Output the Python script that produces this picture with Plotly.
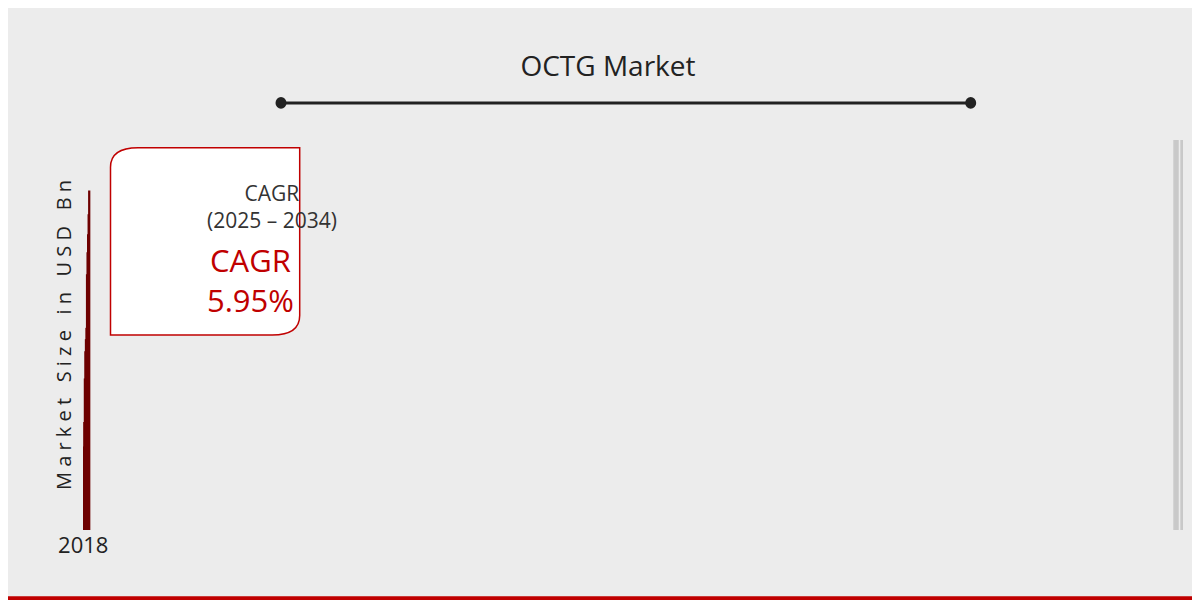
import plotly.graph_objects as go

years = ["2018", "2019", "2021", "2022", "2023", "2024", "2025", "2026", "2031", "2032", "2033", "2034"]
values = [5.7, 9.1, 11.8, 16.6, 19.6, 20.93, 22.18, 28.1, 30.5, 32.5, 34.7, 37.32]
shown = ["", "", "", "", "", "20.93", "22.18", "", "", "", "", "37.32"]

fig = go.Figure()
fig.add_trace(go.Bar(
    x=years, y=values, text=shown, textposition="outside", cliponaxis=False,
    textfont=dict(size=19, color="#222", family="Open Sans"),
    marker=dict(color="#c10000", line=dict(color="#6e0000", width=2)),
    width=0.48,
))

# vertical guide lines through the bar centres
for yr in years:
    fig.add_shape(type="line", xref="x", yref="paper", x0=yr, x1=yr, y0=0, y1=1,
                  line=dict(color="#c8c8c8", width=1), layer="below")

fig.add_shape(type="line", xref="paper", yref="paper", x0=0.18, x1=0.807, y0=1.095, y1=1.095,
              line=dict(color="#222", width=3))
for xp in [0.18, 0.807]:
    fig.add_shape(type="circle", xref="paper", yref="paper", x0=xp - 0.005, x1=xp + 0.005,
                  y0=1.08, y1=1.11, fillcolor="#222", line=dict(width=0))

# red strip at the bottom
fig.add_shape(type="rect", xref="paper", yref="paper", x0=-0.1, x1=1.1, y0=-0.17, y1=-0.2,
              fillcolor="#c00000", line=dict(width=0))

# CAGR box
fig.add_shape(type="path", xref="paper", yref="paper",
              path="M 0.025 0.5 L 0.025 0.93 Q 0.025 0.98 0.05 0.98 L 0.197 0.98 L 0.197 0.55 Q 0.197 0.5 0.172 0.5 Z",
              fillcolor="white", line=dict(color="#c00000", width=1.5))
fig.add_annotation(xref="paper", yref="paper", x=0.111, y=0.83, yanchor="middle", showarrow=False,
                   text="CAGR<br>(2025 – 2034)", font=dict(size=21, color="#333", family="Open Sans"))
fig.add_annotation(xref="paper", yref="paper", x=0.111, y=0.64, yanchor="middle", showarrow=False,
                   text="CAGR<br>5.95%", font=dict(size=31, color="#c00000", family="Open Sans"))

fig.update_layout(
    width=1200, height=600,
    margin=dict(l=75, r=25, t=132, b=78),
    paper_bgcolor="#ececec", plot_bgcolor="rgba(0,0,0,0)",
    showlegend=False,
    title=dict(text="OCTG Market", x=0.5, y=0.92, xanchor="center",
               font=dict(size=28, color="#222", family="Open Sans")),
    xaxis=dict(type="category", showgrid=False, ticks="",
               tickfont=dict(size=22, color="#222", family="Open Sans")),
    yaxis=dict(range=[0, 43], showgrid=False, showticklabels=False, zeroline=False,
               title=dict(text="M a r k e t   S i z e   i n   U S D   B n", standoff=5,
                          font=dict(size=20, color="#222", family="Open Sans"))),
)

fig.write_html("out.html")
